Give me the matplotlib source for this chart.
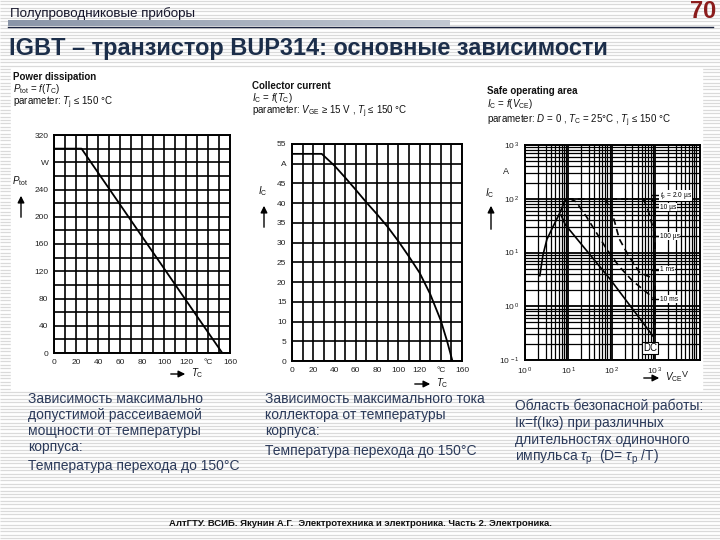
import numpy as np
import matplotlib
matplotlib.use("Agg")
import matplotlib.pyplot as plt
from matplotlib.patches import Rectangle

plt.rcParams['font.family'] = ['Liberation Sans', 'DejaVu Sans']
plt.rcParams['mathtext.fontset'] = 'custom'
plt.rcParams['mathtext.rm'] = 'Liberation Sans'
plt.rcParams['mathtext.it'] = 'Liberation Sans:italic'
plt.rcParams['mathtext.bf'] = 'Liberation Sans:bold'

# ---------------- data ----------------
# Chart 1: power dissipation vs case temperature
p_tc = [0, 25, 153]
p_tot = [300, 300, 0]
p_xticks = list(range(0, 161, 10))
p_xlabels = ['0', '', '20', '', '40', '', '60', '', '80', '', '100', '', '120', '', '°C', '', '160']
p_yticks = list(range(0, 321, 20))
p_ylabels = ['0', '', '40', '', '80', '', '120', '', '160', '', '200', '', '240', '', 'W', '', '320']

# Chart 2: collector current vs case temperature
c_tc = [0, 28, 40, 50, 60, 70, 80, 90, 100, 110, 120, 130, 140, 146, 151]
c_ic = [52.5, 52.5, 49.5, 46.5, 43.4, 40.2, 37.2, 34.0, 30.4, 26.5, 22.4, 17.0, 10.3, 5.0, 0]
c_xticks = list(range(0, 161, 10))
c_xlabels = ['0', '', '20', '', '40', '', '60', '', '80', '', '100', '', '120', '', '°C', '', '160']
c_yticks = list(range(0, 56, 5))
c_ylabels = ['0', '5', '10', '15', '20', '25', '30', '35', '40', '45', 'A', '55']

# Chart 3: safe operating area (log-log)
soa_rise_v = [2.2, 2.6, 3.2, 4.5, 6.4, 8.0]
soa_rise_i = [3.7, 9, 17.5, 31, 55, 85]
soa_link_v = [8.0, 9.2]
soa_link_i = [85, 100]
soa_dc_v = [6.8, 8.5, 92, 900]
soa_dc_i = [50, 33, 3.2, 0.28]
soa_flat_v = [9.2, 1000]
soa_flat_i = [100, 100]
soa_vert_v = [1000, 1000]
soa_vert_i = [100, 0.25]
soa_10ms_v = [11, 15, 26, 45, 80, 150, 300, 600, 1000]
soa_10ms_i = [100, 88, 47, 23, 11, 5.5, 3.0, 1.9, 1.35]
soa_1ms_v = [70, 100, 150, 250, 450, 1000]
soa_1ms_i = [100, 60, 18, 8.5, 4.2, 3.2]
soa_100us_v = [540, 690, 920, 1000]
soa_100us_i = [100, 63, 27, 20]
soa_10us_v = [850, 950, 1000]
soa_10us_i = [100, 85, 70]
pulse_labels = ['$t_{\\rm p}$ = 2.0 µs', '10 µs', '100 µs', '1 ms', '10 ms']
pulse_label_i = [115, 70, 20, 4.8, 1.35]
soa_xticks = [1, 10, 100, 1000]
soa_xlabels = ['10$^{\\,0}$', '10$^{\\,1}$', '10$^{\\,2}$', '10$^{\\,3}$']
soa_yticks = [0.1, 1, 10, 100, 1000]
soa_ylabels = ['10$^{\\,-1}$', '10$^{\\,0}$', '10$^{\\,1}$', '10$^{\\,2}$', '10$^{\\,3}$']

W, H = 720, 540
fig = plt.figure(figsize=(7.2, 5.4), dpi=100)

# ---------------- background ----------------
bg = fig.add_axes([0, 0, 1, 1], zorder=-10)
bg.set_xlim(0, W)
bg.set_ylim(H, 0)
bg.axis('off')
bg.add_patch(Rectangle((0, 0), W, H, color='white'))
bg.hlines(np.arange(1, H, 3.4), 0, W, color='#dadada', lw=0.9)
bg.add_patch(Rectangle((11, 68), 691, 322, color='white', zorder=2))
# header bar
grad = np.linspace(0, 1, 200).reshape(1, -1)
bg.imshow(grad, extent=[8, 450, 26, 20], aspect='auto',
          cmap=matplotlib.colors.LinearSegmentedColormap.from_list('g', ['#8a95a8', '#c2c8d2']),
          zorder=3)
bg.plot([8, 713], [26.5, 26.5], color='#1c2440', lw=1.0, zorder=4)
bg.set_xlim(0, W)
bg.set_ylim(H, 0)


def fx(x):
    return x / W


def fy(y):
    return 1 - y / H


fig.text(fx(10), fy(14), 'Полупроводниковые приборы', fontsize=9.6, color='#15152a',
         va='center', ha='left', family=['Liberation Sans Narrow', 'Liberation Sans'])
fig.text(fx(716), fy(12), '70', fontsize=17, color='#8b1c1c', fontweight='bold',
         va='center', ha='right')
fig.text(fx(9), fy(49), 'IGBT – транзистор BUP314: основные зависимости', fontsize=16.9,
         color='#1c2e4a', fontweight='bold', va='center', ha='left')

# panel headers
hdr = dict(fontsize=7.0, color='#111111', va='center', ha='left')
fig.text(fx(13), fy(77), 'Power dissipation', fontweight='bold', **hdr)
fig.text(fx(13), fy(89), '$P_{\\rm tot}$ = $f$($T_{\\rm C}$)', **hdr)
fig.text(fx(13), fy(103), 'parameter: $T_{\\rm j}$ ≤ 150 °C', **hdr)

fig.text(fx(252), fy(86), 'Collector current', fontweight='bold', **hdr)
fig.text(fx(252), fy(98), '$I_{\\rm C}$ = $f$($T_{\\rm C}$)', **hdr)
fig.text(fx(252), fy(112), 'parameter: $V_{\\rm GE}$ ≥ 15 V , $T_{\\rm j}$ ≤ 150 °C', **hdr)

fig.text(fx(487), fy(91), 'Safe operating area', fontweight='bold', **hdr)
fig.text(fx(487), fy(104), '$I_{\\rm C}$ = $f$($V_{\\rm CE}$)', **hdr)
fig.text(fx(487), fy(121), 'parameter: $D$ = 0 , $T_{\\rm C}$ = 25°C , $T_{\\rm j}$ ≤ 150 °C', **hdr)

tick_kw = dict(labelsize=6, length=0, pad=4, labelcolor='#222222')


def style_grid(ax):
    ax.grid(True, which='major', color='black', lw=1.2)
    for s in ax.spines.values():
        s.set_linewidth(1.4)
    ax.tick_params(axis='both', **tick_kw)
    ax.set_axisbelow(True)


# ---------------- chart 1 ----------------
ax1 = fig.add_axes([fx(54), fy(353), 176 / W, 218 / H], zorder=5)
ax1.set_xlim(0, 160)
ax1.set_ylim(0, 320)
ax1.set_xticks(p_xticks)
ax1.set_xticklabels(p_xlabels)
ax1.set_yticks(p_yticks)
ax1.set_yticklabels(p_ylabels)
style_grid(ax1)
ax1.plot(p_tc, p_tot, color='black', lw=1.3, zorder=6)

# ---------------- chart 2 ----------------
ax2 = fig.add_axes([fx(292), fy(361), 170 / W, 217 / H], zorder=5)
ax2.set_xlim(0, 160)
ax2.set_ylim(0, 55)
ax2.set_xticks(c_xticks)
ax2.set_xticklabels(c_xlabels)
ax2.set_yticks(c_yticks)
ax2.set_yticklabels(c_ylabels)
style_grid(ax2)
ax2.plot(c_tc, c_ic, color='black', lw=1.3, zorder=6)

# ---------------- chart 3 ----------------
ax3 = fig.add_axes([fx(525), fy(360), 175 / W, 215 / H], zorder=5)
ax3.set_xscale('log')
ax3.set_yscale('log')
ax3.set_xlim(1, 1.1e4)
ax3.set_ylim(0.1, 1000)
ax3.set_xticks(soa_xticks)
ax3.set_xticklabels(soa_xlabels)
ax3.set_yticks(soa_yticks)
ax3.set_yticklabels(soa_ylabels)
ax3.minorticks_on()
ax3.tick_params(axis='both', which='minor', length=0, labelleft=False, labelbottom=False)
ax3.grid(True, which='major', color='black', lw=1.3)
ax3.grid(True, which='minor', color='black', lw=0.9)
for s in ax3.spines.values():
    s.set_linewidth(1.4)
ax3.tick_params(axis='both', which='major', **tick_kw)
ax3.set_axisbelow(True)
ax3.text(-0.09, (np.log10(316) + 1) / 4, 'A', transform=ax3.transAxes, fontsize=6.5,
         ha='right', va='center', color='#222222')
ax3.text((np.log10(5000)) / np.log10(1.1e4), -0.045, 'V', transform=ax3.transAxes,
         fontsize=6.5, ha='center', va='top', color='#222222')

ln = dict(color='black', lw=1.2, zorder=6)
dl = dict(color='black', lw=1.2, ls=(0, (4, 2.5)), zorder=6)
ax3.plot(soa_rise_v, soa_rise_i, **ln)
ax3.plot(soa_link_v, soa_link_i, **dl)
ax3.plot(soa_dc_v, soa_dc_i, **ln)
ax3.plot(soa_flat_v, soa_flat_i, **dl)
ax3.plot(soa_vert_v, soa_vert_i, **dl)
ax3.plot(soa_10ms_v, soa_10ms_i, **dl)
ax3.plot(soa_1ms_v, soa_1ms_i, **dl)
ax3.plot(soa_100us_v, soa_100us_i, **dl)
ax3.plot(soa_10us_v, soa_10us_i, **dl)
for lab, yi in zip(pulse_labels, pulse_label_i):
    ax3.plot([1000], [yi], marker='_', ms=6, mew=1.0, color='black', zorder=7)
    ax3.text(1300, yi, lab, fontsize=4.8, ha='left', va='center', zorder=8,
             bbox=dict(facecolor='white', edgecolor='none', pad=0.3))
ax3.text(780, 0.17, 'DC', fontsize=7, ha='center', va='center', zorder=8,
         bbox=dict(facecolor='white', edgecolor='black', lw=0.8, pad=0.8))

# axis name labels with arrows
def ylab(x, y, txt, y0, y1):
    fig.text(fx(x), fy(y), txt, fontsize=7, ha='center', va='center', color='#111111')
    fig.add_artist(matplotlib.patches.FancyArrowPatch(
        (fx(x + 1), fy(y0)), (fx(x + 1), fy(y1)), transform=fig.transFigure,
        arrowstyle='-|>,head_length=4,head_width=2', color='black', lw=1.0, zorder=9))


def xlab(x0, x1, y, txt):
    fig.add_artist(matplotlib.patches.FancyArrowPatch(
        (fx(x0), fy(y)), (fx(x1), fy(y)), transform=fig.transFigure,
        arrowstyle='-|>,head_length=4,head_width=2', color='black', lw=1.0, zorder=9))
    fig.text(fx(x1 + 3), fy(y - 1), txt, fontsize=7, ha='left', va='center', color='#111111')


ylab(20, 181, '$P_{\\rm tot}$', 220, 193)
xlab(168, 188, 374, '$T_{\\rm C}$')
ylab(263, 191, '$I_{\\rm C}$', 230, 203)
xlab(412, 433, 384, '$T_{\\rm C}$')
ylab(490, 193, '$I_{\\rm C}$', 232, 203)
xlab(641, 662, 378, '$V_{\\rm CE}$')

# ---------------- captions ----------------
cap = dict(fontsize=10, color='#2b3a5a', ha='left', va='center')
for i, t in enumerate(['Зависимость максимально', 'допустимой рассеиваемой',
                       'мощности от температуры', 'корпуса:']):
    fig.text(fx(28), fy(399 + 16 * i), t, **cap)
fig.text(fx(28), fy(466), 'Температура перехода до 150°C', **cap)

for i, t in enumerate(['Зависимость максимального тока', 'коллектора от температуры',
                       'корпуса:']):
    fig.text(fx(265), fy(399 + 16 * i), t, **cap)
fig.text(fx(265), fy(451), 'Температура перехода до 150°C', **cap)

for i, t in enumerate(['Область безопасной работы:', 'Iк=f(Iкэ) при различных',
                       'длительностях одиночного']):
    fig.text(fx(515), fy(406 + 17 * i), t, **cap)
fig.text(fx(515), fy(457), 'импульса $\\tau_{\\rm p}$  (D= $\\tau_{\\rm p}$ /T)', **cap)

fig.text(0.5, fy(524), 'АлтГТУ. ВСИБ. Якунин А.Г.  Электротехника и электроника. Часть 2. Электроника.',
         fontsize=6.8, fontweight='bold', color='#111111', ha='center', va='center')

fig.savefig('out.png', dpi=100)
